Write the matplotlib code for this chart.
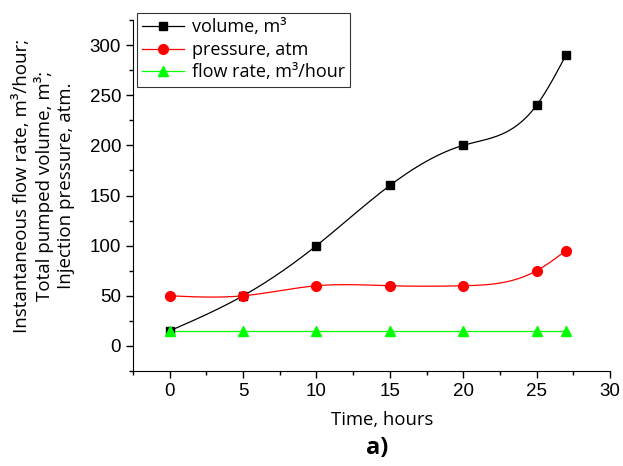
import numpy as np
import matplotlib
matplotlib.use("Agg")
import matplotlib.pyplot as plt

hours = [0, 5, 10, 15, 20, 25, 27]
volume = [15, 50, 100, 160, 200, 240, 290]
pressure = [50, 50, 60, 60, 60, 75, 95]
flow_rate = [15, 15, 15, 15, 15, 15, 15]


def natural_spline(x, y, n=300):
    x = np.asarray(x, float)
    y = np.asarray(y, float)
    k = len(x)
    h = np.diff(x)
    a = np.zeros((k, k))
    b = np.zeros(k)
    a[0, 0] = a[-1, -1] = 1
    for i in range(1, k - 1):
        a[i, i - 1] = h[i - 1]
        a[i, i] = 2 * (h[i - 1] + h[i])
        a[i, i + 1] = h[i]
        b[i] = 6 * ((y[i + 1] - y[i]) / h[i] - (y[i] - y[i - 1]) / h[i - 1])
    m = np.linalg.solve(a, b)
    xs = np.linspace(x[0], x[-1], n)
    idx = np.clip(np.searchsorted(x, xs) - 1, 0, k - 2)
    x0, x1 = x[idx], x[idx + 1]
    hh = x1 - x0
    t0 = x1 - xs
    t1 = xs - x0
    ys = (m[idx] * t0 ** 3 + m[idx + 1] * t1 ** 3) / (6 * hh) \
        + (y[idx] / hh - m[idx] * hh / 6) * t0 \
        + (y[idx + 1] / hh - m[idx + 1] * hh / 6) * t1
    return xs, ys


fig = plt.figure(figsize=(6.23, 4.66), dpi=100)
ax = fig.add_axes([133 / 623, 1 - 371 / 466, 477 / 623, 351 / 466])

series = [
    (volume, "black", "s", 6, "volume, m\u00b3", True),
    (pressure, "red", "o", 7, "pressure, atm", True),
    (flow_rate, "#00ff00", "^", 7.5, "flow rate, m\u00b3/hour", False),
]
for vals, col, mk, ms, lab, smooth in series:
    if smooth:
        xs, ys = natural_spline(hours, vals)
    else:
        xs, ys = hours, vals
    ax.plot(xs, ys, color=col, lw=0.9, zorder=2)
    ax.plot(hours, vals, ls="none", marker=mk, ms=ms, color=col, zorder=3)
    ax.plot([], [], color=col, lw=0.9, marker=mk, ms=ms, label=lab)

ax.set_xlim(-2.5, 30)
ax.set_ylim(-25, 325)
ax.set_xticks([0, 5, 10, 15, 20, 25, 30])
ax.set_xticks(np.arange(-2.5, 30.1, 2.5), minor=True)
ax.set_yticks([0, 50, 100, 150, 200, 250, 300])
ax.set_yticks(np.arange(-25, 326, 25), minor=True)
ax.spines["top"].set_visible(False)
ax.spines["right"].set_visible(False)
ax.tick_params(which="major", length=5, width=1, direction="out")
ax.tick_params(which="minor", length=3, width=1, direction="out")
for lbl in ax.get_xticklabels() + ax.get_yticklabels():
    lbl.set_fontfamily("Liberation Sans")
    lbl.set_fontsize(13.5)

leg = ax.legend(loc="upper left", bbox_to_anchor=(0.008, 1.02), prop={"family": "Open Sans", "size": 13},
                frameon=True, fancybox=False, edgecolor="black", handlelength=2.3,
                borderaxespad=0, labelspacing=0.25, handletextpad=0.45, borderpad=0.3)
leg.get_frame().set_linewidth(0.8)

fig.text(382 / 623, 1 - 420 / 466, "Time, hours", ha="center", va="center",
         family="Open Sans", fontsize=13.3)
fig.text(44 / 623, 1 - 186 / 466,
         "Instantaneous flow rate, m\u00b3/hour;\nTotal pumped volume, m\u00b3;\nInjection pressure, atm.",
         rotation=90, ha="center", va="center", multialignment="center",
         family="Open Sans", fontsize=13.5, linespacing=1.2)
fig.text(377 / 623, 1 - 448 / 466, "a)", ha="center", va="center",
         family="Open Sans", fontsize=17, fontweight="bold")

fig.savefig("out.png", dpi=100)
